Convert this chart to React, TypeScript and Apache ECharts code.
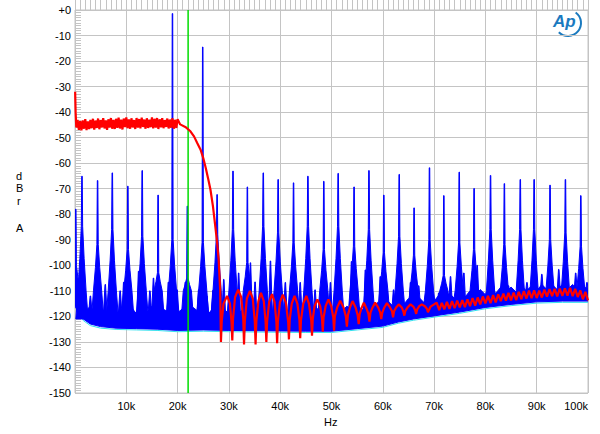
import React, { useEffect, useRef } from 'react';
import * as echarts from 'echarts';

// ---------- axis ----------
const xMinK = 0;
const xMaxK = 100;
const xStepK = 10;
const yMinDb = -150;
const yMaxDb = 0;
const yStepDb = 10;
const nyquistK = 22.05;

// ---------- red trace (kHz, dBr) ----------
const redHead: [number, number][] = [[0.03, -32], [0.12, -40], [0.25, -46]];
const redFlatStartK = 0.5;
const redFlatStepK = 0.25;
const redFlat: number[] = [
  -43.0, -46.9, -43.5, -47.1, -43.2, -46.5, -42.7, -47.0, -43.6, -46.6,
  -43.0, -46.3, -42.6, -46.8, -43.3, -46.2, -42.5, -46.7, -43.1, -46.0,
  -42.4, -46.4, -43.2, -46.9, -42.8, -46.1, -42.3, -46.5, -43.0, -46.6,
  -42.6, -46.2, -42.2, -46.4, -42.9, -46.8, -42.5, -45.9, -42.1, -46.3,
  -42.8, -46.5, -42.4, -46.0, -43.1, -46.6, -42.3, -46.1, -42.7, -46.4,
  -42.2, -45.8, -42.9, -46.5, -42.4, -46.2, -43.0, -45.9, -42.1, -46.4,
  -42.6, -46.1, -42.3, -46.6, -42.8, -46.0, -42.4, -46.3, -43.1, -45.8,
  -42.5, -46.4, -42.9, -46.1, -42.4, -46.5, -43.0, -46.2, -42.8,
];
const redRolloff: [number, number][] = [
  [20.5, -44.8], [21.5, -45.8], [22.5, -47.5], [23.2, -49.5], [23.8, -52], [24.46, -54.6],
  [25.0, -58], [25.5, -62], [26.0, -66.5], [26.4, -70.3], [26.9, -77], [27.35, -84.7],
  [27.7, -91], [28.0, -97.7], [28.3, -109.5], [28.45, -130],
];
const redLobes: [number, number][] = [
  [28.6, -122], [28.95, -115], [29.65, -112], [30.2, -115], [30.5, -122], [30.66, -129.4],
  [30.8, -121], [31.2, -112.5], [31.8, -109.5], [32.4, -112.5], [32.8, -121], [32.95, -131],
  [33.1, -122], [33.5, -113], [34.1, -110], [34.65, -113], [35.05, -122], [35.2, -131],
  [35.35, -122], [35.75, -114], [36.25, -110.8], [36.8, -114], [37.15, -122], [37.3, -130],
  [37.45, -122], [37.85, -114.3], [38.4, -111.3], [38.9, -114.3], [39.25, -122], [39.4, -130.5],
  [39.55, -122], [39.95, -114.5], [40.5, -111.5], [41.1, -114.5], [41.55, -122], [41.7, -129],
  [41.85, -121.5], [42.25, -115], [42.8, -112], [43.35, -115], [43.75, -121.5], [43.9, -128.5],
  [44.05, -121.5], [44.5, -115], [45.1, -112], [45.6, -115], [46.05, -121.5], [46.2, -127.6],
  [46.35, -121], [46.7, -116], [47.25, -113.3], [47.8, -116], [48.15, -121], [48.3, -126],
  [48.45, -120.5], [48.85, -116], [49.4, -113.3], [49.95, -116], [50.35, -120.5], [50.5, -125.6],
  [50.65, -120], [51.1, -116.5], [51.7, -113.9], [52.35, -116.5], [52.8, -120], [53.0, -124],
  [53.2, -119.5], [53.6, -116.5], [54.1, -114], [54.7, -116.5], [55.1, -119.5], [55.3, -123],
  [55.5, -119], [55.85, -116.8], [56.3, -114.6], [56.8, -116.8], [57.2, -119], [57.4, -122],
  [57.6, -118.5], [58.0, -116.5], [58.5, -114.6], [59.1, -116.5], [59.5, -118.5], [59.7, -121],
  [59.9, -118.5], [60.3, -116.5], [60.8, -114.8], [61.4, -116.5], [61.8, -118], [62.0, -120.4],
  [62.2, -118], [62.6, -116.5], [63.1, -115.3], [63.7, -116.5], [64.0, -118], [64.2, -119.7],
  [64.4, -117.8], [64.9, -116.3], [65.4, -115.3], [66.0, -116.3], [66.3, -117.5], [66.5, -119],
  [66.7, -117.3], [67.1, -116], [67.6, -115.3], [68.2, -116], [68.6, -117], [68.8, -118.4],
  [69.3, -116.2], [70.0, -115.3],
];
const redTailStartK = 70.5;
const redTailStepK = 0.5;
const redTail: number[] = [
  -114.6, -117.5, -114.7, -117.2, -114.3, -117.1, -114.0, -116.8, -113.8, -116.5,
  -113.6, -116.4, -113.3, -116.0, -112.8, -115.8, -112.6, -115.3, -112.2, -114.9,
  -112.0, -114.8, -111.7, -114.5, -111.4, -114.0, -111.1, -113.8, -110.8, -113.7,
  -110.7, -113.6, -110.4, -113.2, -110.1, -113.0, -109.9, -112.9, -109.8, -112.8,
  -109.9, -112.6, -109.5, -112.3, -109.3, -112.1, -109.2, -112.2, -109.1, -112.0,
  -109.0, -111.9, -108.8, -112.1, -109.2, -112.4, -109.8, -113.3, -110.4, -113.7,
];

// ---------- blue trace ----------
// lower edge of the noise floor
const blueFloor: [number, number][] = [
  [0, -116], [0.4, -117.5], [1.6, -121], [3, -123], [5, -124], [8, -124.6], [12, -124.8],
  [16, -125], [20, -125.5], [25, -125.3], [30, -125.5], [35, -125.6], [40, -125.7],
  [45, -125.8], [50, -125.8], [55, -124.8], [60, -123.8], [63, -122.2], [66, -121],
  [70, -119.8], [75, -118.3], [80, -116.5], [85, -115.3], [90, -114.3], [95, -114], [100, -114],
];
// top of the dense noise "grass"
const grassHead: [number, number][] = [[0, -100], [0.3, -108], [0.6, -113]];
const grassStartK = 1;
const grassStepK = 1;
const grassTop: number[] = [
  -115, -118, -116, -119, -116.5, -118.5, -116, -119, -117, -118.5,
  -116.5, -119, -117, -118.5, -116, -119, -117, -118, -116.5, -118.5,
  -117, -119, -116.5, -118, -117, -119, -116.5, -118.5, -117, -119,
  -116.5, -118.5, -117, -119, -116.5, -118.5, -117, -119, -116.5, -118.5,
  -117, -119, -116.5, -118.5, -117, -118.5, -116.5, -118.5, -117, -118,
  -116.5, -118, -116, -117.5, -115.5, -117.5, -115, -117, -114.5, -116.5,
  -114, -116, -113.5, -115.5, -113, -115, -112.5, -114.5, -112, -114,
  -111.5, -113.5, -111, -113, -110.5, -112.5, -110, -112, -109.5, -111.5,
  -109, -111, -108.5, -110.5, -108.5, -110.5, -108, -110, -108, -110,
  -107.5, -109.5, -107.5, -109.5, -107.5, -109.5, -107.5, -109.5, -108, -109.5,
];
// harmonic spikes: [kHz, peak dB, shoulder dB, skirt base dB]
const harmonics: [number, number, number, number][] = [
  [0.15, -78, -100, -112],
  [1.36, -65.1, -84.7, -121], [4.4, -66.8, -91.8, -121], [7.27, -63.8, -86, -121],
  [10.3, -69, -93.8, -121], [13.1, -62.9, -88.6, -121], [16.2, -72.5, -102.9, -121],
  [19.0, -1.4, -90, -121], [21.9, -76.8, -105, -121], [24.9, -14.5, -91, -121],
  [27.7, -72.3, -88, -121], [30.8, -63.1, -86, -121], [33.6, -69.3, -98.9, -121],
  [36.7, -63.8, -84.7, -121], [39.6, -66.4, -87.3, -121], [42.6, -67.7, -91.2, -121],
  [45.4, -65.1, -84.7, -121], [48.5, -67.1, -93.8, -121], [51.3, -64, -84.7, -121],
  [54.4, -69.3, -92.5, -121], [57.3, -62.9, -86, -120.5], [60.2, -72.5, -95.1, -120],
  [63.2, -64.4, -88.6, -119], [66.1, -77.5, -96, -118], [69.1, -61.8, -90, -117],
  [71.9, -72.7, -104, -116], [74.9, -63.5, -91.2, -115.5], [77.8, -69.9, -93.8, -114.5],
  [81.0, -64.8, -86, -113.5], [83.7, -68, -91.8, -113], [86.8, -66.4, -86, -112.5],
  [89.5, -66.4, -86, -112], [92.6, -68.6, -90, -111.5], [95.6, -66.4, -87.3, -111.5],
  [98.6, -72.7, -92.5, -111.5],
];
// small spikes in the grass: [kHz, peak dB, base dB]
const minorSpikes: [number, number, number][] = [
  [3.0, -112, -119], [5.9, -107.5, -119], [8.8, -110, -119], [9.5, -106.6, -119],
  [12.4, -102.3, -119], [14.6, -110, -119], [15.3, -105, -119], [18.2, -106.6, -119],
  [19.9, -109.6, -119], [21.5, -106.6, -119], [24.1, -109.6, -119], [25.7, -112, -119],
  [26.9, -109.8, -119], [29.0, -105.5, -119], [31.9, -103, -119], [34.2, -99, -119],
  [35.1, -106.5, -119], [38.1, -98.3, -119], [41.0, -106.7, -119], [43.9, -106.7, -119],
  [46.8, -109.6, -119], [49.8, -106.7, -119], [53.9, -98.5, -119], [56.6, -101.8, -119],
  [59.5, -104.4, -118], [62.1, -109.6, -118], [65.4, -106.7, -117], [67.0, -108, -116.5],
  [70.9, -110.8, -116], [73.2, -104.4, -115], [75.8, -103, -115], [78.4, -100, -114],
  [81.6, -108, -113], [84.5, -108, -113], [88.1, -106.7, -112], [91.0, -103.5, -112],
  [94.3, -101.6, -111.5], [97.6, -103, -111.5], [99.8, -106.7, -111.5],
];
// cyan second-channel edge under the blue floor
const cyanEdge: [number, number][] = [
  [0.3, -117.8], [0.8, -119.2], [1.6, -121.6], [3, -123.6], [5, -124.6], [8, -125.1], [12, -125.3],
  [16, -125.5], [20, -126], [25, -125.8], [30, -126], [35, -126.1], [40, -126.2],
  [45, -126.3], [50, -126.3], [55, -125.3], [60, -124.3], [63, -122.7], [66, -121.5],
  [70, -120.3], [75, -118.8], [80, -117], [85, -115.8], [90, -114.8], [95, -114.5], [100, -114.5],
];

const BLUE = '#0000ff';
const RED = '#ff0000';
const GREEN = '#00dd00';
const CYAN = '#33e0ee';
const GRID = '#c4c4c4';
const FONT = '"Liberation Sans", Arial, sans-serif';

function buildRed(): [number, number][] {
  const out: [number, number][] = [...redHead];
  redFlat.forEach((v, i) => out.push([redFlatStartK + i * redFlatStepK, v]));
  out.push(...redRolloff, ...redLobes);
  redTail.forEach((v, i) => out.push([redTailStartK + i * redTailStepK, v]));
  return out;
}

function buildGrassTop(): [number, number][] {
  const out: [number, number][] = [...grassHead];
  grassTop.forEach((v, i) => out.push([grassStartK + i * grassStepK, v]));
  return out;
}

export default function App() {
  const ref = useRef<HTMLDivElement>(null);
  useEffect(() => {
    if (!ref.current) return;
    const chart = echarts.init(ref.current, null, { renderer: 'svg' });
    const grassPts = buildGrassTop();
    const polyStyle = { fill: BLUE, stroke: BLUE, lineWidth: 1 };

    const option: any = {
      animation: false,
      backgroundColor: '#ffffff',
      grid: { left: 75, right: 12, top: 10, bottom: 41, show: true, borderColor: GRID, borderWidth: 1 },
      xAxis: {
        type: 'value', min: xMinK, max: xMaxK, interval: xStepK,
        axisLine: { show: false },
        axisTick: { show: true, inside: true, length: 14, lineStyle: { color: GRID } },
        minorTick: { show: true, splitNumber: 10, length: 14, lineStyle: { color: GRID } },
        splitLine: { show: true, lineStyle: { color: GRID, width: 1 } },
        axisLabel: {
          formatter: (v: number) => (v === 0 ? '' : v + 'k'),
          color: '#000', fontSize: 11, fontFamily: FONT, margin: 7, alignMaxLabel: 'right',
        },
      },
      yAxis: {
        type: 'value', min: yMinDb, max: yMaxDb, interval: yStepDb,
        axisLine: { show: false },
        axisTick: { show: true, inside: true, length: 6, lineStyle: { color: GRID } },
        minorTick: { show: true, splitNumber: 10, length: 6, lineStyle: { color: GRID } },
        splitLine: { show: true, lineStyle: { color: GRID, width: 1 } },
        axisLabel: {
          formatter: (v: number) => (v === 0 ? '+0' : String(v)),
          color: '#000', fontSize: 11, fontFamily: FONT, margin: 4,
        },
      },
      graphic: [
        { type: 'text', left: 16, top: 170, style: { text: 'd', font: '11px ' + FONT, fill: '#000' } },
        { type: 'text', left: 16, top: 182, style: { text: 'B', font: '11px ' + FONT, fill: '#000' } },
        { type: 'text', left: 17, top: 195, style: { text: 'r', font: '11px ' + FONT, fill: '#000' } },
        { type: 'text', left: 16, top: 222, style: { text: 'A', font: '11px ' + FONT, fill: '#000' } },
        { type: 'text', left: 324, top: 416, style: { text: 'Hz', font: '11px ' + FONT, fill: '#000' } },
        { type: 'text', left: 553, top: 13, style: { text: 'Ap', font: 'italic bold 17px ' + FONT, fill: '#1a7abf' } },
        {
          type: 'arc', shape: { cx: 568, cy: 23, r: 13, startAngle: -Math.PI * 0.3, endAngle: Math.PI * 0.75 },
          style: { stroke: '#1a7abf', lineWidth: 2, fill: 'none' },
        },
      ],
      series: [
        {
          type: 'line', data: cyanEdge, showSymbol: false, silent: true,
          lineStyle: { color: CYAN, width: 1 }, z: 1,
        },
        {
          type: 'custom', silent: true, clip: true, z: 2,
          data: [[0, 0]],
          renderItem: (_p: any, api: any) => {
            const pts = [
              ...grassPts.map((p) => api.coord(p)),
              ...blueFloor.slice().reverse().map((p) => api.coord(p)),
            ];
            return { type: 'polygon', shape: { points: pts }, style: polyStyle };
          },
        },
        {
          type: 'custom', silent: true, clip: true, z: 3,
          data: harmonics, encode: { x: 0, y: 1 },
          renderItem: (_p: any, api: any) => {
            const f = api.value(0), P = api.value(1), S = api.value(2), B = api.value(3);
            const mid = (S - 110) / 2;
            const rel: [number, number][] = [
              [-1.2, B], [-0.8, -110], [-0.42, mid], [-0.13, S], [-0.05, P],
              [0.05, P], [0.13, S], [0.42, mid], [0.8, -110], [1.2, B],
            ];
            return {
              type: 'polygon',
              shape: { points: rel.map(([d, v]) => api.coord([f + d, v])) },
              style: polyStyle,
            };
          },
        },
        {
          type: 'custom', silent: true, clip: true, z: 3,
          data: minorSpikes, encode: { x: 0, y: 1 },
          renderItem: (_p: any, api: any) => {
            const f = api.value(0), L = api.value(1), B = api.value(2);
            const rel: [number, number][] = [[-0.35, B], [-0.05, L], [0.05, L], [0.35, B]];
            return {
              type: 'polygon',
              shape: { points: rel.map(([d, v]) => api.coord([f + d, v])) },
              style: polyStyle,
            };
          },
        },
        {
          type: 'line', data: [[nyquistK, yMaxDb], [nyquistK, yMinDb]], showSymbol: false, silent: true,
          lineStyle: { color: GREEN, width: 1.5 }, z: 4,
        },
        {
          type: 'line', data: buildRed(), showSymbol: false, silent: true,
          lineStyle: { color: RED, width: 2.2 }, z: 5,
        },
      ],
    };
    chart.setOption(option);
    return () => chart.dispose();
  }, []);
  return (
    <div
      ref={ref}
      style={{ position: 'fixed', left: 0, top: 0, width: 600, height: 434, background: '#fff' }}
    />
  );
}
